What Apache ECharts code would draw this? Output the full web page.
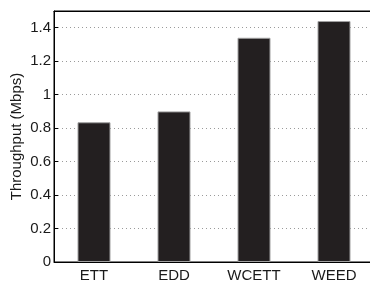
<!DOCTYPE html>
<html>
<head>
<meta charset="utf-8">
<script src="https://cdn.jsdelivr.net/npm/echarts@6/dist/echarts.min.js"></script>
<style>html,body{margin:0;padding:0;background:#fff;}#c{width:370px;height:284px;}</style>
</head>
<body>
<div id="c"></div>
<script>
const categories = ['ETT', 'EDD', 'WCETT', 'WEED'];
const throughput = [0.835, 0.90, 1.34, 1.44];
const yTicks = [0, 0.2, 0.4, 0.6, 0.8, 1, 1.2, 1.4];
const yTitle = 'Throughput (Mbps)';

const FONT = '"Liberation Sans", Arial, Helvetica, sans-serif';
const chart = echarts.init(document.getElementById('c'), null, {renderer: 'canvas'});
chart.setOption({
  animation: false,
  backgroundColor: '#fff',
  grid: {left: 54, top: 11, bottom: 22, right: -4, show: true, borderColor: '#000', borderWidth: 1,
         backgroundColor: 'transparent', containLabel: false, outerBoundsMode: 'none'},
  xAxis: [{
    type: 'category', data: categories, position: 'bottom',
    axisLine: {lineStyle: {color: '#000', width: 1}},
    axisTick: {inside: true, alignWithLabel: true, length: 4, lineStyle: {color: '#000'}},
    axisLabel: {color: '#1a1a1a', fontFamily: FONT, fontSize: 15, margin: 6, interval: 0, hideOverlap: false}
  }, {
    type: 'category', data: categories, position: 'top',
    axisLine: {show: true, lineStyle: {color: '#000', width: 1}},
    axisTick: {inside: true, alignWithLabel: true, length: 4, lineStyle: {color: '#000'}},
    axisLabel: {show: false}
  }],
  yAxis: {
    type: 'value', min: 0, max: 1.5, interval: 0.2,
    name: yTitle, nameLocation: 'middle', nameGap: 30, nameMoveOverlap: false,
    nameTextStyle: {color: '#1a1a1a', fontFamily: FONT, fontSize: 15},
    axisLine: {show: true, lineStyle: {color: '#000', width: 1}},
    axisTick: {show: true, inside: true, length: 4, lineStyle: {color: '#000'}},
    axisLabel: {color: '#1a1a1a', fontFamily: FONT, fontSize: 15, margin: 3,
      formatter: v => yTicks.some(t => Math.abs(t - v) < 1e-9) ? String(+v.toFixed(1)) : ''},
    splitLine: {show: true, lineStyle: {color: '#9a9a9a', type: [1, 3], width: 1}}
  },
  series: [{
    type: 'bar', data: throughput, xAxisIndex: 0, barWidth: 33,
    itemStyle: {color: '#231f20', borderColor: '#a0a0a0', borderWidth: 1}
  }]
});
</script>
</body>
</html>
